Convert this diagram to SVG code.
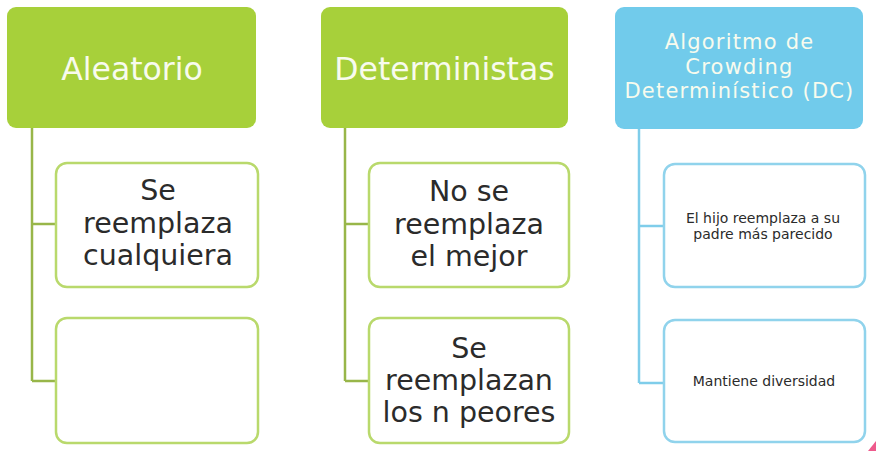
<svg xmlns="http://www.w3.org/2000/svg" width="876" height="451" viewBox="0 0 876 451">
<style>
.hg{fill:#a7d03a}
.hb{fill:#71cbeb}
.cg{fill:#fff;stroke:#b9d96c;stroke-width:2.5}
.cb{fill:#fff;stroke:#90d3ec;stroke-width:2.5}
.lg{fill:none;stroke:#98b649;stroke-width:2.5}
.lb{fill:none;stroke:#7fcdea;stroke-width:2.5}
.ht{font-family:"DejaVu Sans",sans-serif;fill:#f8fbee;text-anchor:middle}
.ct{font-family:"DejaVu Sans",sans-serif;fill:#2b2b2b;text-anchor:middle}
.dc{font-size:21px;letter-spacing:1.2px}
</style>
<rect width="876" height="451" fill="#fff"/>
<g id="connectors">
<path class="lg" d="M32,128 V381 M32,224 H56 M32,381 H56"/>
<path class="lg" d="M345,128 V381 M345,224 H370 M345,381 H370"/>
<path class="lb" d="M639,129 V383 M639,226 H664 M639,383 H664"/>
</g>
<g id="aleatorio">
<rect class="hg" x="7" y="7" width="249" height="121" rx="9"/>
<text class="ht" x="132" y="80" font-size="31.5">Aleatorio</text>
</g>
<g id="aleatorio-1">
<rect class="cg" x="56" y="163" width="202" height="124" rx="11"/>
<text class="ct" x="158" y="200" font-size="28.5">Se</text>
<text class="ct" x="158" y="233" font-size="28.5">reemplaza</text>
<text class="ct" x="158" y="265" font-size="28.5">cualquiera</text>
</g>
<g id="aleatorio-2">
<rect class="cg" x="56" y="318" width="202" height="125" rx="11"/>
</g>
<g id="deterministas">
<rect class="hg" x="321" y="7" width="247" height="121" rx="9"/>
<text class="ht" x="444.5" y="80" font-size="31.5">Deterministas</text>
</g>
<g id="deterministas-1">
<rect class="cg" x="369" y="163" width="200" height="124" rx="11"/>
<text class="ct" x="469" y="201" font-size="28.5">No se</text>
<text class="ct" x="469" y="233.5" font-size="28.5">reemplaza</text>
<text class="ct" x="469" y="266" font-size="28.5">el mejor</text>
</g>
<g id="deterministas-2">
<rect class="cg" x="369" y="318" width="200" height="125" rx="11"/>
<text class="ct" x="469" y="358" font-size="28.5">Se</text>
<text class="ct" x="469" y="390" font-size="28.5">reemplazan</text>
<text class="ct" x="469" y="422" font-size="28.5">los n peores</text>
</g>
<g id="dc">
<rect class="hb" x="615" y="7" width="248" height="122" rx="9"/>
<text class="ht dc" x="739.5" y="49">Algoritmo de</text>
<text class="ht dc" x="739.5" y="73.5">Crowding</text>
<text class="ht dc" x="739.5" y="98">Determinístico (DC)</text>
</g>
<g id="dc-1">
<rect class="cb" x="664" y="164" width="201" height="123" rx="11"/>
<text class="ct" x="763" y="223" font-size="14">El hijo reemplaza a su</text>
<text class="ct" x="763" y="239" font-size="14">padre más parecido</text>
</g>
<g id="dc-2">
<rect class="cb" x="664" y="320" width="201" height="122" rx="11"/>
<text class="ct" x="764" y="386" font-size="14">Mantiene diversidad</text>
</g>
<polygon points="876,441 876,451 868,451" fill="#ee5a8c"/>
</svg>
